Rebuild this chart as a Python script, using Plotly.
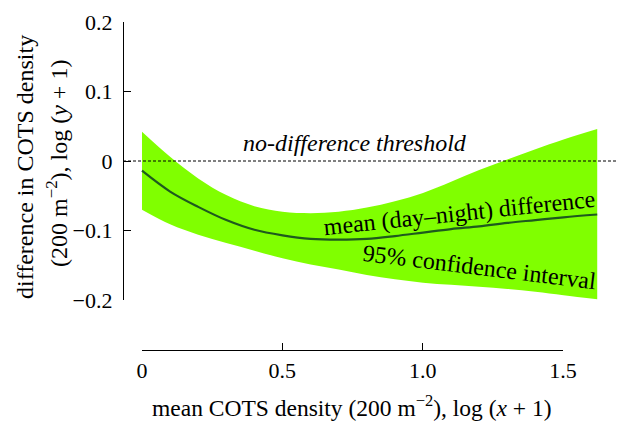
import plotly.graph_objects as go

# ---- data ----
x_vals = [0.0, 0.1, 0.2, 0.3, 0.4, 0.5, 0.6, 0.7, 0.8, 0.9, 1.0, 1.1, 1.2, 1.3, 1.4, 1.5, 1.62]
mean_vals = [-0.014, -0.044, -0.066, -0.085, -0.099, -0.107, -0.112, -0.113, -0.112, -0.108,
             -0.103, -0.098, -0.094, -0.089, -0.085, -0.081, -0.077]
upper_vals = [0.042, 0.006, -0.025, -0.049, -0.065, -0.073, -0.075, -0.073, -0.067, -0.058,
              -0.046, -0.030, -0.013, 0.002, 0.017, 0.031, 0.046]
lower_vals = [-0.070, -0.091, -0.106, -0.118, -0.129, -0.140, -0.149, -0.156, -0.164, -0.170,
              -0.175, -0.178, -0.181, -0.184, -0.188, -0.193, -0.199]
threshold = 0.0

x_tickvals = [0, 0.5, 1.0, 1.5]
x_ticktext = ["0", "0.5", "1.0", "1.5"]
y_tickvals = [0.2, 0.1, 0, -0.1, -0.2]
y_ticktext = ["0.2", "0.1", "0", "\u22120.1", "\u22120.2"]

FONT = "Liberation Serif, Times New Roman, serif"
GREEN = "#80ff00"
DARK = "#1e5a1e"

fig = go.Figure()
fig.add_trace(go.Scatter(x=x_vals, y=upper_vals, mode="lines", line=dict(width=0, shape="spline"),
                         hoverinfo="skip", showlegend=False))
fig.add_trace(go.Scatter(x=x_vals, y=lower_vals, mode="lines", line=dict(width=0, shape="spline"),
                         fill="tonexty", fillcolor=GREEN, hoverinfo="skip", showlegend=False))
fig.add_trace(go.Scatter(x=x_vals, y=mean_vals, mode="lines",
                         line=dict(width=2.2, color=DARK, shape="spline"),
                         hoverinfo="skip", showlegend=False))
# dummy trace to host the visible x axis
fig.add_trace(go.Scatter(x=x_tickvals, y=[None] * len(x_tickvals), xaxis="x2", yaxis="y",
                         mode="lines", hoverinfo="skip", showlegend=False))

W, H = 620, 424
L, R, T, B = 123, 2, 22, 74
pw, ph = W - L - R, H - T - B
x0px, x_unit = 142.0, 281.0  # pixel of x=0 and pixels per unit


def px2paper_x(px):
    return (px - L) / pw


def py2paper_y(py):
    return (H - B - py) / ph


fig.update_layout(
    template="none",
    width=W, height=H, autosize=False,
    margin=dict(l=L, r=R, t=T, b=B, autoexpand=False),
    paper_bgcolor="white", plot_bgcolor="rgba(0,0,0,0)",
    font=dict(family=FONT, size=22, color="black"),
    showlegend=False,
    xaxis=dict(domain=[0, 1], range=[(L - x0px) / x_unit, (W - R - x0px) / x_unit],
               visible=False, fixedrange=True, automargin=False),
    xaxis2=dict(domain=[px2paper_x(142), px2paper_x(563)], range=[0, 1.5], anchor="free", position=0,
                showline=True, linecolor="black", linewidth=1.2, ticks="inside", ticklen=7,
                tickcolor="black", tickwidth=1.2, tickvals=x_tickvals, ticktext=x_ticktext,
                showgrid=False, zeroline=False, tickfont=dict(size=22), automargin=False),
    yaxis=dict(domain=[py2paper_y(300), 1], range=[-0.2, 0.2], anchor="free", position=0,
               showline=True, linecolor="black", linewidth=1.2, ticks="inside", ticklen=7,
               tickcolor="black", tickwidth=1.2, tickvals=y_tickvals, ticktext=y_ticktext,
               showgrid=False, zeroline=False, tickfont=dict(size=22), ticklabelstandoff=6,
               automargin=False),
    shapes=[dict(type="line", xref="paper", x0=0, x1=1, yref="y", y0=threshold, y1=threshold,
                 line=dict(color="black", width=1, dash="3px,2px"))],
)

ann = [
    dict(text="difference in COTS density", xref="paper", yref="paper",
         x=px2paper_x(25), y=py2paper_y(167), textangle=-90, font=dict(size=24)),
    dict(text="(200 m<sup>\u22122</sup>), log (<i>y</i> + 1)", xref="paper", yref="paper",
         x=px2paper_x(57), y=py2paper_y(164), textangle=-90, font=dict(size=24)),
    dict(text="mean COTS density (200 m<sup>\u22122</sup>), log (<i>x</i> + 1)",
         xref="paper", yref="paper", x=px2paper_x(352), y=py2paper_y(406), font=dict(size=23.5)),
    dict(text="<i>no-difference threshold</i>", xref="x", yref="y",
         x=(355 - x0px) / x_unit, y=0.0259, font=dict(size=24)),
    dict(text="mean (day\u2013night) difference", xref="x", yref="y",
         x=(459 - x0px) / x_unit, y=-0.0744, textangle=-6, font=dict(size=24)),
    dict(text="95% confidence interval", xref="x", yref="y",
         x=(479 - x0px) / x_unit, y=-0.1532, textangle=7, font=dict(size=24)),
]
for a in ann:
    a.update(showarrow=False, xanchor="center", yanchor="middle")
fig.update_layout(annotations=ann)

fig.write_html(
    "out.html",
    config={"displayModeBar": False, "responsive": False},
    post_script="document.body.style.margin='0';document.body.style.overflow='hidden';"
                "document.documentElement.style.overflow='hidden';",
)
